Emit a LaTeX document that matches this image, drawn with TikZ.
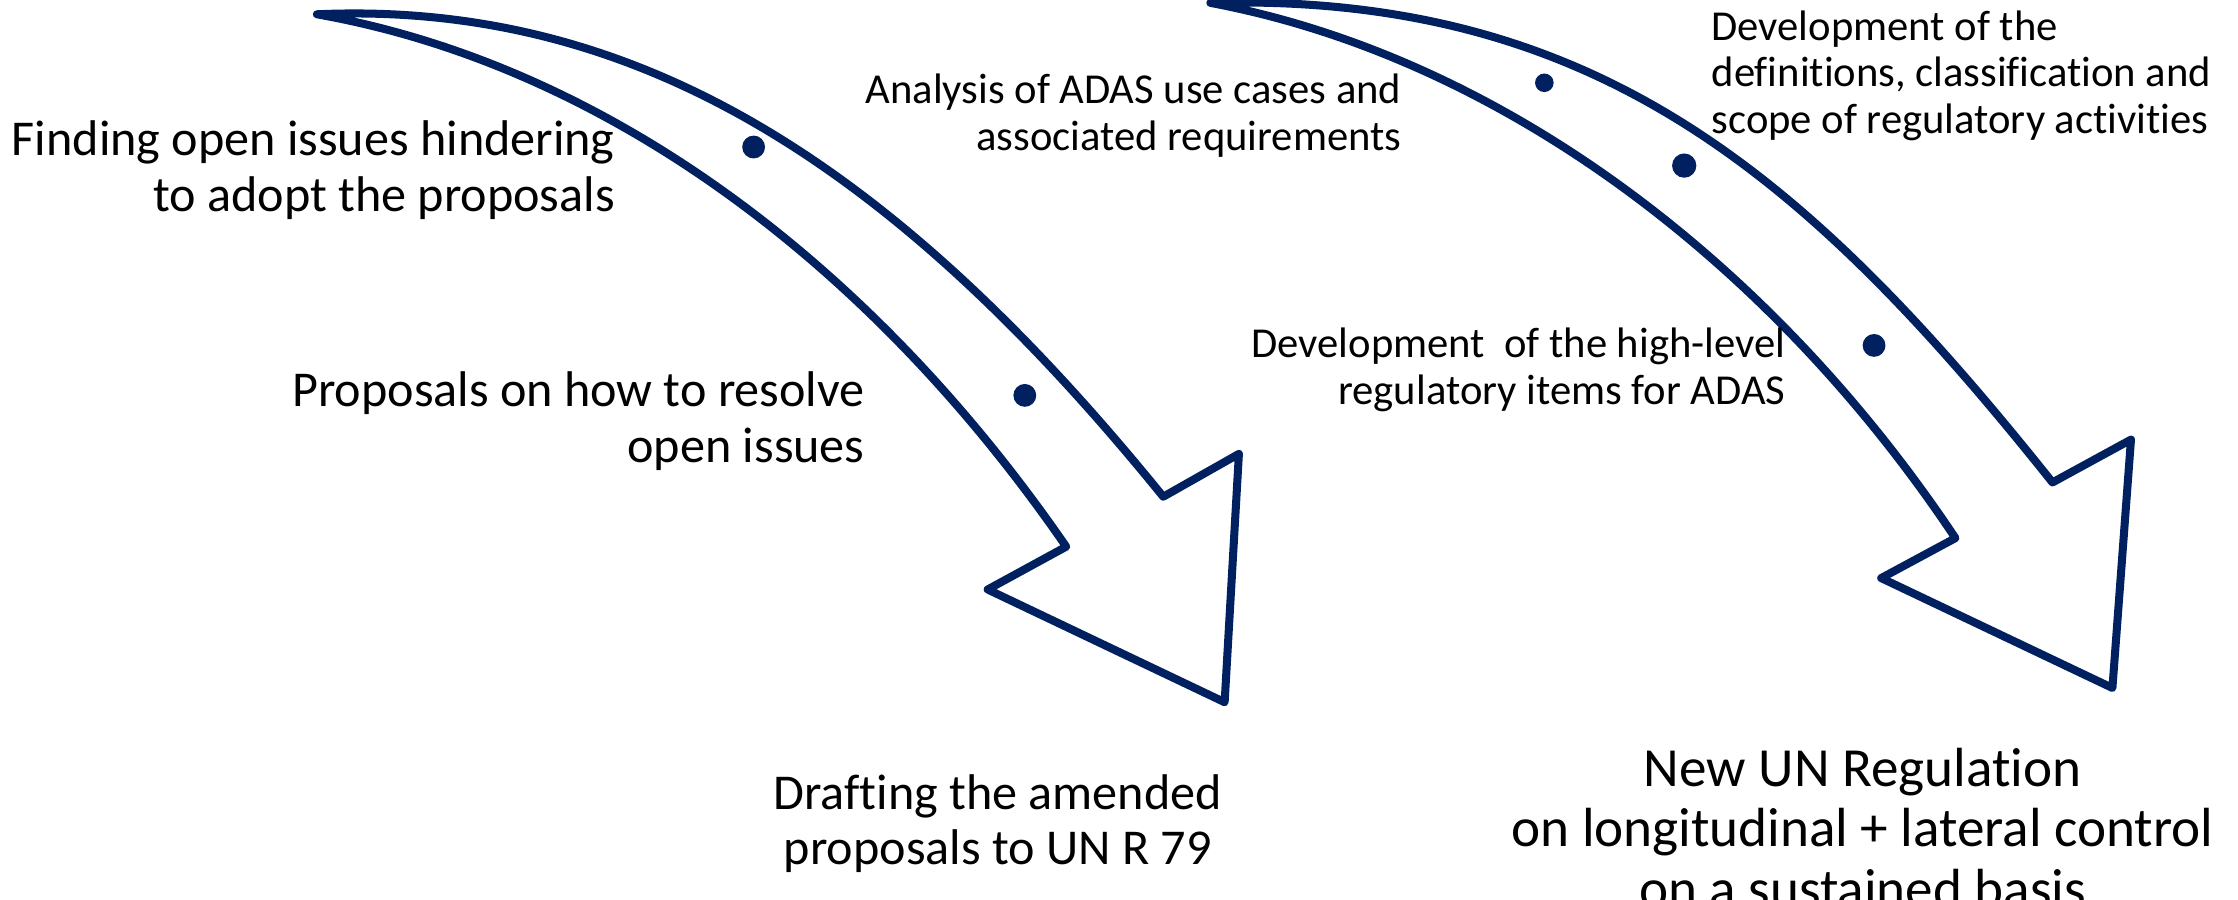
\documentclass[tikz,border=0pt]{standalone}
\usepackage{fontspec}
\setmainfont{Carlito}[Ligatures=NoCommon]
\definecolor{azul}{RGB}{0,32,96}
\begin{document}
\begin{tikzpicture}[x=0.02cm,y=-0.02cm,
    flecha/.style={draw=azul,line width=3.2pt,line join=round,fill=white},
    punto/.style={fill=azul},
    medio/.style={font=\fontsize{20}{22.2}\selectfont},
    chico/.style={font=\fontsize{17}{18.5}\selectfont},
    grande/.style={font=\fontsize{22}{24.2}\selectfont}]
    \useasboundingbox (0,0) rectangle (1568,630);

    % Flecha izquierda
    \draw[flecha] (222,10) .. controls (450,0) and (630,120) .. (815,348)
        -- (868,318) -- (858,492) -- (692,413) -- (747,383)
        .. controls (607,180) and (420,45) .. (222,10) -- cycle;

    % Flecha derecha
    \draw[flecha] (848,2) .. controls (1120,-5) and (1268,125) .. (1438,338)
        -- (1493,308) -- (1480,482) -- (1318,405) -- (1370,377)
        .. controls (1240,182) and (1050,40) .. (848,2) -- cycle;

    % Puntos
    \fill[punto] (528,103) circle (8);
    \fill[punto] (718,277) circle (8);
    \fill[punto] (1082,58) circle (6.5);
    \fill[punto] (1180,116) circle (8.5);
    \fill[punto] (1313,242) circle (8);

    % Textos
    \node[medio,anchor=east,align=right] (finding) at (437,119)
        {Finding open issues hindering\\to adopt the proposals};
    \node[medio,anchor=east,align=right] (resolve) at (612,295)
        {Proposals on how to resolve\\open issues};
    \node[medio,align=center] (drafting) at (699,577)
        {Drafting the amended\\proposals to UN R 79};
    \node[chico,anchor=east,align=right] (analysis) at (988,81)
        {Analysis of ADAS use cases and\\associated requirements};
    \node[chico,anchor=west,align=left] (definitions) at (1193,53)
        {Development of the\\definitions, classification and\\scope of regulatory activities};
    \node[chico,anchor=east,align=right] (highlevel) at (1257,259)
        {Development~ of the high-level\\regulatory items for ADAS};
    \node[grande,align=center] (regulation) at (1305,580)
        {New UN Regulation\\on longitudinal + lateral control\\on a sustained basis};
\end{tikzpicture}
\end{document}
